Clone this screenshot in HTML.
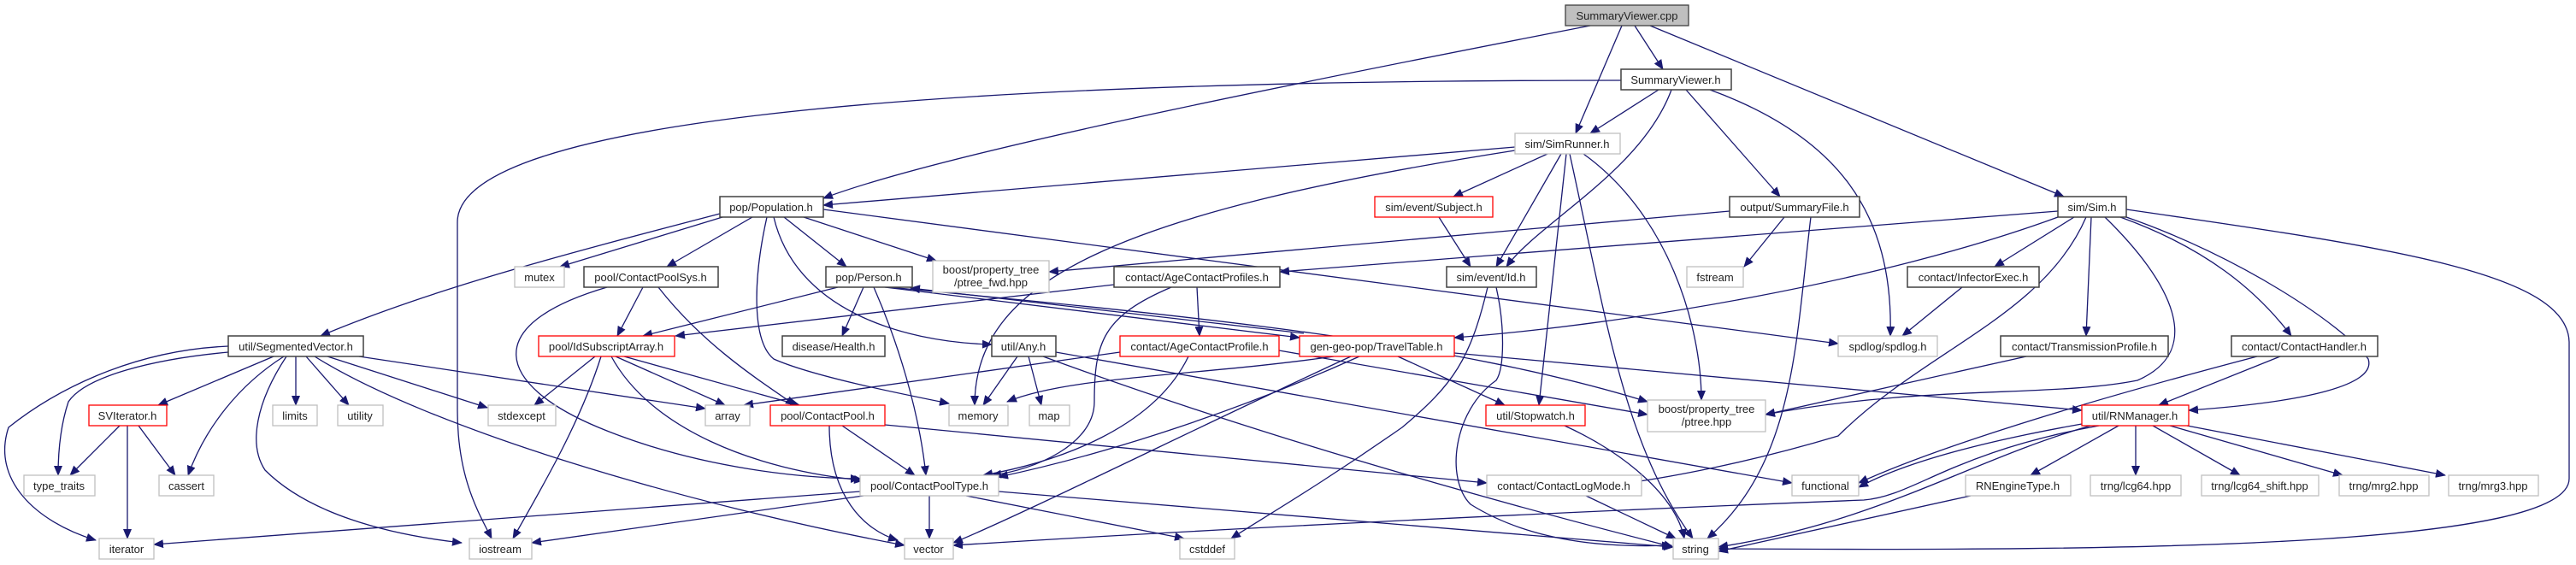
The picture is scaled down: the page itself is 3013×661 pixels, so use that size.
<!DOCTYPE html>
<html><head><meta charset="utf-8"><style>
html,body{margin:0;padding:0;background:#fff;}
svg{display:block;}
text{font-family:"Liberation Sans",Arial,sans-serif;font-size:13px;fill:#222;text-anchor:middle;}
.e{fill:none;stroke:#191970;stroke-width:1.3;marker-end:url(#a);}
.l{fill:#fff;stroke:#bfbfbf;stroke-width:1.3;}
.d{fill:#fff;stroke:#404040;stroke-width:1.5;}
.r{fill:#fff;stroke:#ff0000;stroke-width:1.3;}
</style></head><body>
<svg width="3013" height="661" viewBox="0 0 3013 661" xmlns="http://www.w3.org/2000/svg">
<defs><marker id="a" markerUnits="userSpaceOnUse" markerWidth="12" markerHeight="10" refX="11" refY="5" orient="auto"><path d="M0,0 L12,5 L0,10 z" fill="#191970"/></marker></defs>
<g>
<path class="e" d="M1860,30 C1500,100 1100,180 963,232"/>
<path class="e" d="M1897,30 L1843,156"/>
<path class="e" d="M1912,30 L1945,81"/>
<path class="e" d="M1930,30 L2414,230"/>
<path class="e" d="M1896,94 C1000,94 535,150 535,260 L535,480 C535,560 560,600 575,630"/>
<path class="e" d="M1940,105 L1860,156"/>
<path class="e" d="M1955,105 C1920,200 1800,260 1762,312"/>
<path class="e" d="M1972,105 L2082,230"/>
<path class="e" d="M2000,105 C2150,160 2215,250 2211,393"/>
<path class="e" d="M1772,172 L963,240"/>
<path class="e" d="M1772,176 C1300,250 1140,330 1140,474"/>
<path class="e" d="M1810,180 L1700,230"/>
<path class="e" d="M1826,180 L1750,312"/>
<path class="e" d="M1832,180 L1800,474"/>
<path class="e" d="M1836,180 C1880,380 1900,520 1980,630"/>
<path class="e" d="M1852,180 C1950,250 1990,380 1990,468"/>
<path class="e" d="M842,250 C650,300 500,340 375,393"/>
<path class="e" d="M845,254 L655,312"/>
<path class="e" d="M880,254 L780,312"/>
<path class="e" d="M917,254 L990,312"/>
<path class="e" d="M940,254 L1095,305"/>
<path class="e" d="M897,254 C880,330 880,400 905,420 C950,440 1050,460 1110,472"/>
<path class="e" d="M905,254 C930,360 1050,400 1160,403"/>
<path class="e" d="M963,245 L2150,402"/>
<path class="e" d="M980,336 L752,393"/>
<path class="e" d="M1010,336 L985,393"/>
<path class="e" d="M1022,336 C1050,400 1075,480 1083,556"/>
<path class="e" d="M1035,336 L1520,395"/>
<path class="e" d="M1525,390 L1065,337"/>
<path class="e" d="M1040,336 C1400,370 1700,400 1927,470"/>
<path class="e" d="M710,336 C560,380 580,450 700,500 C820,550 950,560 1006,560"/>
<path class="e" d="M770,336 C820,400 880,440 930,474"/>
<path class="e" d="M752,336 L722,393"/>
<path class="e" d="M1303,333 L790,393"/>
<path class="e" d="M1400,336 L1403,393"/>
<path class="e" d="M1370,336 C1290,370 1280,400 1280,470 C1280,520 1210,550 1160,556"/>
<path class="e" d="M1310,412 L870,474"/>
<path class="e" d="M1496,410 L1927,485"/>
<path class="e" d="M1390,417 C1350,500 1240,540 1150,556"/>
<path class="e" d="M1190,417 L1150,474"/>
<path class="e" d="M1203,417 L1218,474"/>
<path class="e" d="M1235,412 L2096,565"/>
<path class="e" d="M1220,417 C1500,520 1800,600 1957,640"/>
<path class="e" d="M696,417 L625,474"/>
<path class="e" d="M703,417 C680,490 640,560 600,630"/>
<path class="e" d="M720,417 L848,474"/>
<path class="e" d="M730,417 L935,474"/>
<path class="e" d="M715,417 C760,500 880,550 1010,562"/>
<path class="e" d="M267,405 C150,410 60,460 10,500 C-10,560 40,610 112,632"/>
<path class="e" d="M267,412 C180,420 100,440 80,470 C70,500 68,530 68,556"/>
<path class="e" d="M320,417 L185,474"/>
<path class="e" d="M332,417 C280,450 240,500 220,556"/>
<path class="e" d="M335,417 C300,470 290,520 310,550 C360,600 450,625 540,635"/>
<path class="e" d="M346,417 L346,474"/>
<path class="e" d="M358,417 L408,474"/>
<path class="e" d="M383,417 L570,477"/>
<path class="e" d="M368,417 C500,500 800,590 1058,638"/>
<path class="e" d="M420,417 L825,478"/>
<path class="e" d="M140,498 L82,556"/>
<path class="e" d="M149,498 L149,630"/>
<path class="e" d="M162,498 L205,556"/>
<path class="e" d="M985,498 L1070,556"/>
<path class="e" d="M970,498 C970,580 1010,620 1050,632"/>
<path class="e" d="M1035,497 L1739,565"/>
<path class="e" d="M1006,575 L180,637"/>
<path class="e" d="M1010,580 L622,635"/>
<path class="e" d="M1087,580 L1087,630"/>
<path class="e" d="M1130,580 L1385,630"/>
<path class="e" d="M1168,575 L1957,640"/>
<path class="e" d="M1560,417 C1400,440 1250,440 1178,470"/>
<path class="e" d="M1580,417 C1400,500 1200,600 1115,635"/>
<path class="e" d="M1590,417 C1450,480 1300,530 1168,558"/>
<path class="e" d="M1635,417 L1760,474"/>
<path class="e" d="M1701,413 L2435,480"/>
<path class="e" d="M1683,254 L1720,312"/>
<path class="e" d="M1740,336 C1720,420 1700,450 1640,500 C1540,570 1470,610 1440,630"/>
<path class="e" d="M1750,336 C1760,380 1760,430 1750,445 C1700,480 1690,560 1720,590 C1800,640 1900,640 1955,638"/>
<path class="e" d="M2023,247 L1227,318"/>
<path class="e" d="M2087,254 L2040,312"/>
<path class="e" d="M2118,254 C2100,400 2100,540 1997,630"/>
<path class="e" d="M1830,498 C1900,530 1960,580 1970,630"/>
<path class="e" d="M1855,580 L1960,630"/>
<path class="e" d="M2407,247 L1497,318"/>
<path class="e" d="M2407,254 C2200,330 1900,380 1701,395"/>
<path class="e" d="M2426,254 L2333,312"/>
<path class="e" d="M2440,254 C2390,370 2250,410 2150,510 C2050,540 1950,560 1880,568"/>
<path class="e" d="M2446,254 L2440,393"/>
<path class="e" d="M2462,254 C2540,330 2580,410 2500,445 C2400,465 2250,450 2065,485"/>
<path class="e" d="M2480,254 C2580,290 2640,340 2680,393"/>
<path class="e" d="M2487,254 C2620,300 2740,380 2770,420 C2780,450 2700,470 2560,480"/>
<path class="e" d="M2487,245 C2800,290 3003,320 3005,400 L3005,560 C3005,640 2500,645 2010,642"/>
<path class="e" d="M2295,336 L2225,393"/>
<path class="e" d="M2370,417 L2065,485"/>
<path class="e" d="M2640,417 C2400,480 2250,530 2174,565"/>
<path class="e" d="M2667,417 L2525,474"/>
<path class="e" d="M2478,498 L2375,556"/>
<path class="e" d="M2498,498 L2498,556"/>
<path class="e" d="M2518,498 L2620,556"/>
<path class="e" d="M2538,498 L2740,556"/>
<path class="e" d="M2558,498 L2860,556"/>
<path class="e" d="M2435,496 C2300,520 2220,545 2174,570"/>
<path class="e" d="M2445,498 C2300,540 2200,610 2010,640"/>
<path class="e" d="M2455,498 C2280,530 2240,580 2180,585 C1800,600 1400,620 1115,638"/>
<path class="e" d="M2305,580 L2010,645"/>
</g>
<g>
<rect x="1831" y="6" width="144" height="24" fill="#bfbfbf" stroke="#404040" stroke-width="1.3"/><text x="1903" y="23">SummaryViewer.cpp</text>
<rect class="d" x="1896" y="81" width="129" height="24"/><text x="1960" y="98">SummaryViewer.h</text>
<rect class="l" x="1772" y="156" width="123" height="24"/><text x="1833" y="173">sim/SimRunner.h</text>
<rect class="d" x="842" y="230" width="121" height="24"/><text x="902" y="247">pop/Population.h</text>
<rect class="r" x="1608" y="230" width="138" height="24"/><text x="1677" y="247">sim/event/Subject.h</text>
<rect class="d" x="2023" y="230" width="152" height="24"/><text x="2099" y="247">output/SummaryFile.h</text>
<rect class="d" x="2407" y="230" width="80" height="24"/><text x="2447" y="247">sim/Sim.h</text>
<rect class="l" x="602" y="312" width="58" height="24"/><text x="631" y="329">mutex</text>
<rect class="d" x="683" y="312" width="157" height="24"/><text x="761" y="329">pool/ContactPoolSys.h</text>
<rect class="d" x="966" y="312" width="101" height="24"/><text x="1016" y="329">pop/Person.h</text>
<rect class="l" x="1091" y="305" width="136" height="37"/><text x="1159" y="320">boost/property_tree</text><text x="1159" y="335">/ptree_fwd.hpp</text>
<rect class="d" x="1303" y="312" width="194" height="24"/><text x="1400" y="329">contact/AgeContactProfiles.h</text>
<rect class="d" x="1692" y="312" width="105" height="24"/><text x="1744" y="329">sim/event/Id.h</text>
<rect class="l" x="1973" y="312" width="66" height="24"/><text x="2006" y="329">fstream</text>
<rect class="d" x="2231" y="312" width="154" height="24"/><text x="2308" y="329">contact/InfectorExec.h</text>
<rect class="d" x="267" y="393" width="158" height="24"/><text x="346" y="410">util/SegmentedVector.h</text>
<rect class="r" x="630" y="393" width="159" height="24"/><text x="709" y="410">pool/IdSubscriptArray.h</text>
<rect class="d" x="915" y="393" width="120" height="24"/><text x="975" y="410">disease/Health.h</text>
<rect class="d" x="1160" y="393" width="75" height="24"/><text x="1197" y="410">util/Any.h</text>
<rect class="r" x="1310" y="393" width="186" height="24"/><text x="1403" y="410">contact/AgeContactProfile.h</text>
<rect class="r" x="1520" y="393" width="181" height="24"/><text x="1610" y="410">gen-geo-pop/TravelTable.h</text>
<rect class="l" x="2150" y="393" width="116" height="24"/><text x="2208" y="410">spdlog/spdlog.h</text>
<rect class="d" x="2340" y="393" width="196" height="24"/><text x="2438" y="410">contact/TransmissionProfile.h</text>
<rect class="d" x="2610" y="393" width="171" height="24"/><text x="2695" y="410">contact/ContactHandler.h</text>
<rect class="r" x="104" y="474" width="91" height="24"/><text x="149" y="491">SVIterator.h</text>
<rect class="l" x="319" y="474" width="52" height="24"/><text x="345" y="491">limits</text>
<rect class="l" x="395" y="474" width="53" height="24"/><text x="421" y="491">utility</text>
<rect class="l" x="571" y="474" width="79" height="24"/><text x="610" y="491">stdexcept</text>
<rect class="l" x="825" y="474" width="52" height="24"/><text x="851" y="491">array</text>
<rect class="r" x="901" y="474" width="134" height="24"/><text x="968" y="491">pool/ContactPool.h</text>
<rect class="l" x="1110" y="474" width="69" height="24"/><text x="1144" y="491">memory</text>
<rect class="l" x="1204" y="474" width="47" height="24"/><text x="1227" y="491">map</text>
<rect class="r" x="1738" y="474" width="116" height="24"/><text x="1796" y="491">util/Stopwatch.h</text>
<rect class="l" x="1927" y="468" width="138" height="37"/><text x="1996" y="483">boost/property_tree</text><text x="1996" y="498">/ptree.hpp</text>
<rect class="r" x="2435" y="474" width="125" height="24"/><text x="2497" y="491">util/RNManager.h</text>
<rect class="l" x="28" y="556" width="83" height="24"/><text x="69" y="573">type_traits</text>
<rect class="l" x="186" y="556" width="64" height="24"/><text x="218" y="573">cassert</text>
<rect class="l" x="1006" y="556" width="162" height="24"/><text x="1087" y="573">pool/ContactPoolType.h</text>
<rect class="l" x="1739" y="556" width="181" height="24"/><text x="1829" y="573">contact/ContactLogMode.h</text>
<rect class="l" x="2096" y="556" width="78" height="24"/><text x="2135" y="573">functional</text>
<rect class="l" x="2299" y="556" width="123" height="24"/><text x="2360" y="573">RNEngineType.h</text>
<rect class="l" x="2445" y="556" width="106" height="24"/><text x="2498" y="573">trng/lcg64.hpp</text>
<rect class="l" x="2575" y="556" width="137" height="24"/><text x="2643" y="573">trng/lcg64_shift.hpp</text>
<rect class="l" x="2736" y="556" width="105" height="24"/><text x="2788" y="573">trng/mrg2.hpp</text>
<rect class="l" x="2864" y="556" width="105" height="24"/><text x="2916" y="573">trng/mrg3.hpp</text>
<rect class="l" x="116" y="630" width="64" height="24"/><text x="148" y="647">iterator</text>
<rect class="l" x="549" y="630" width="73" height="24"/><text x="585" y="647">iostream</text>
<rect class="l" x="1058" y="630" width="57" height="24"/><text x="1086" y="647">vector</text>
<rect class="l" x="1380" y="630" width="64" height="24"/><text x="1412" y="647">cstddef</text>
<rect class="l" x="1957" y="630" width="53" height="24"/><text x="1983" y="647">string</text>
</g>
</svg>
</body></html>
